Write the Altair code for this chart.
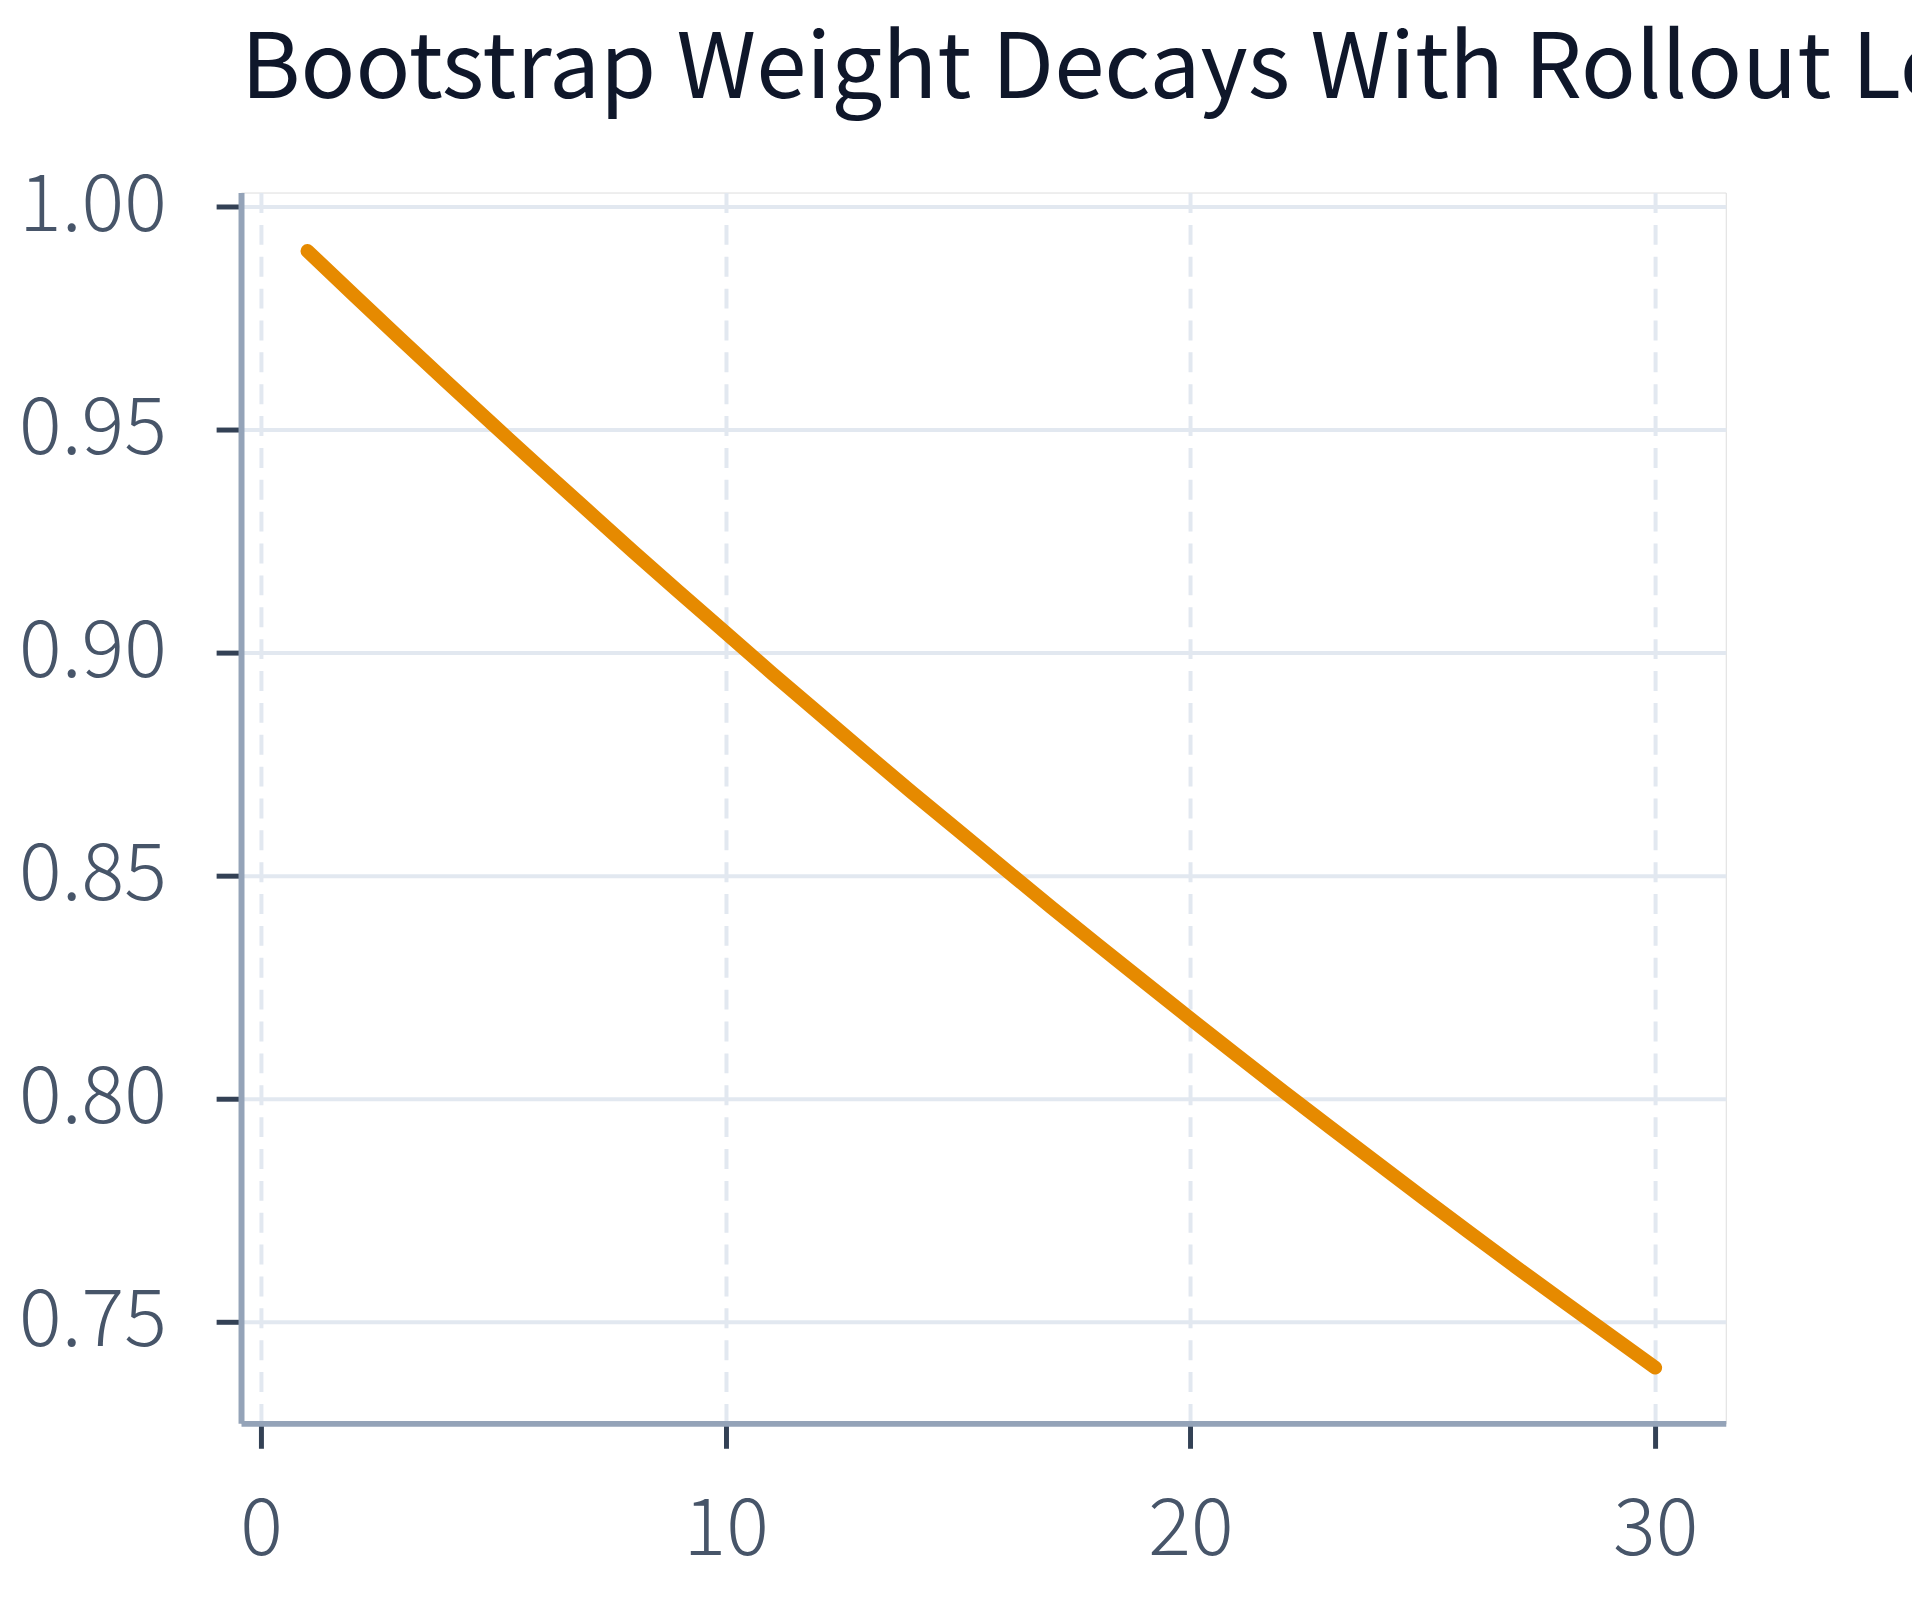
import altair as alt
import pandas as pd

# Rollout length (steps) and bootstrap weight
steps = list(range(1, 31))
weights = [
    0.9900, 0.9801, 0.9703, 0.9606, 0.9510, 0.9415, 0.9321, 0.9227, 0.9135, 0.9044,
    0.8953, 0.8864, 0.8775, 0.8687, 0.8601, 0.8515, 0.8429, 0.8345, 0.8262, 0.8179,
    0.8097, 0.8016, 0.7936, 0.7857, 0.7778, 0.7700, 0.7623, 0.7547, 0.7472, 0.7397,
]
x_ticks = [0, 10, 20, 30]
y_ticks = [0.75, 0.80, 0.85, 0.90, 0.95, 1.00]
title_text = "Bootstrap Weight Decays With Rollout Length"

df = pd.DataFrame({"step": steps, "weight": weights})

FONT = "Noto Sans CJK KR"

chart = (
    alt.Chart(df)
    .mark_line(color="#e68a00", strokeWidth=14, strokeCap="round", strokeJoin="round")
    .encode(
        x=alt.X(
            "step:Q",
            scale=alt.Scale(domain=[-0.43, 31.52], nice=False, zero=False),
            axis=alt.Axis(
                values=x_ticks,
                title=None,
                grid=True,
                gridDash=[20, 12],
                gridColor="#e2e8f0",
                gridWidth=4,
                domainColor="#94a3b8",
                domainWidth=6,
                tickColor="#334155",
                tickSize=25,
                tickWidth=5,
                labelFont=FONT,
                labelFontSize=80,
                labelFontWeight=300,
                labelColor="#475569",
                labelPadding=44,
                format="d",
            ),
        ),
        y=alt.Y(
            "weight:Q",
            scale=alt.Scale(domain=[0.7272, 1.0031], nice=False, zero=False),
            axis=alt.Axis(
                values=y_ticks,
                title=None,
                grid=True,
                gridColor="#e2e8f0",
                gridWidth=4,
                domainColor="#94a3b8",
                domainWidth=6,
                tickColor="#334155",
                tickSize=25,
                tickWidth=5,
                labelFont=FONT,
                labelFontSize=80,
                labelFontWeight=300,
                labelColor="#475569",
                labelPadding=50,
                format=".2f",
            ),
        ),
    )
    .properties(
        width=1491,
        height=1236,
        title=alt.TitleParams(
            text=title_text,
            anchor="start",
            frame="group",
            font=FONT,
            fontSize=91,
            fontWeight="normal",
            color="#0f172a",
            offset=50,
        ),
        autosize=alt.AutoSizeParams(type="none"),
        padding={"left": 234, "top": 182, "right": 187, "bottom": 160},
    )
    .configure_view(strokeWidth=0, stroke="transparent")
    .configure(background="white")
)

chart.save("out.html", embed_options={"renderer": "svg", "actions": False})
